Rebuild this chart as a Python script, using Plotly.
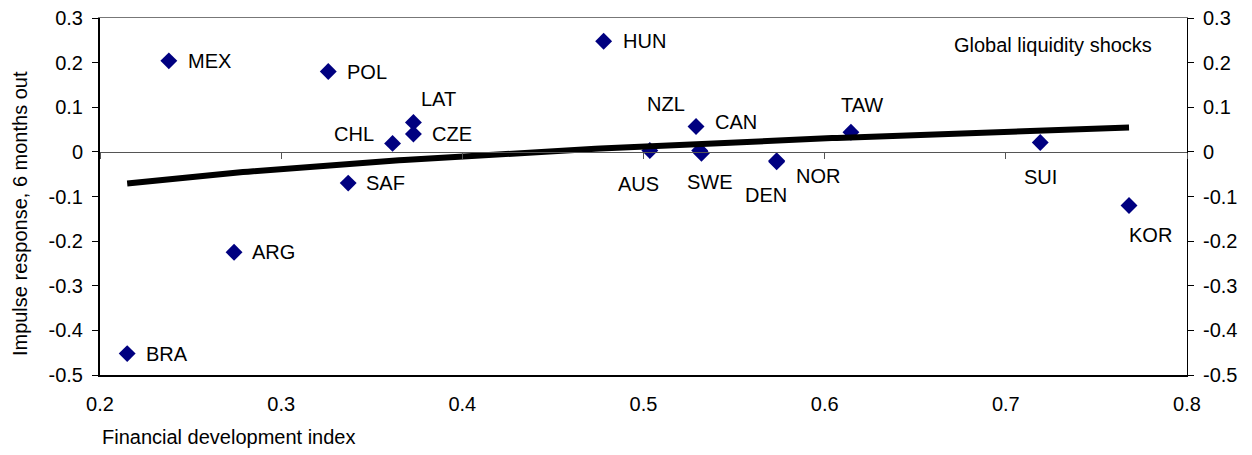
import numpy as np
import plotly.graph_objects as go

# ---- data ----
COUNTRIES = ["MEX", "POL", "LAT", "CZE", "CHL", "SAF", "HUN", "CAN", "NZL", "AUS",
             "SWE", "DEN", "NOR", "TAW", "SUI", "KOR", "ARG", "BRA"]
FIN_DEV = [0.238, 0.326, 0.373, 0.373, 0.3615, 0.337, 0.478, 0.529, 0.531, 0.5035,
           0.532, 0.5735, 0.5735, 0.6145, 0.719, 0.768, 0.274, 0.215]
IMPULSE = [0.204, 0.180, 0.066, 0.040, 0.019, -0.070, 0.248, 0.057, 0.003, 0.003,
           -0.003, -0.020, -0.022, 0.044, 0.021, -0.120, -0.225, -0.452]

X_TICKS = [0.2, 0.3, 0.4, 0.5, 0.6, 0.7, 0.8]
X_TICK_LABELS = ["0.2", "0.3", "0.4", "0.5", "0.6", "0.7", "0.8"]
Y_TICKS = [0.3, 0.2, 0.1, 0.0, -0.1, -0.2, -0.3, -0.4, -0.5]
Y_TICK_LABELS = ["0.3", "0.2", "0.1", "0", "-0.1", "-0.2", "-0.3", "-0.4", "-0.5"]

X_TITLE = "Financial development index"
Y_TITLE = "Impulse response, 6 months out"
PANEL_TEXT = "Global liquidity shocks"

# ---- label placement (pixels relative to marker): xanchor, dx, dy ----
LABEL_POS = {
    "MEX": ("left", 17, 0), "POL": ("left", 17, 0), "LAT": ("left", 6, 23),
    "CZE": ("left", 17, 0), "CHL": ("right", -17, 9), "SAF": ("left", 16, 0),
    "HUN": ("left", 17, 0), "CAN": ("left", 17, 4), "NZL": ("center", -34, 47),
    "AUS": ("center", -11, -33), "SWE": ("center", 9, -29), "DEN": ("center", -11, -34),
    "NOR": ("left", 17, -14), "TAW": ("center", 11, 27), "SUI": ("center", 0, -34),
    "KOR": ("center", 21, -30), "ARG": ("left", 16, 0), "BRA": ("left", 17, 0),
}

FONT = "Liberation Sans, Arial, sans-serif"
FS = 20
X_RANGE = [0.2, 0.8]
Y_RANGE = [-0.5, 0.3]

# log trend line fitted to the points
xa = np.array(FIN_DEV)
ya = np.array(IMPULSE)
b, a = np.polyfit(np.log(xa), ya, 1)
xs = np.linspace(xa.min(), xa.max(), 200)
ys = a + b * np.log(xs)

fig = go.Figure()
# invisible carriers so the auxiliary axes (zero line, top border, right axis) are drawn
for xr, yr in (("x2", "y"), ("x3", "y"), ("x", "y2")):
    fig.add_trace(go.Scatter(
        x=FIN_DEV, y=IMPULSE, mode="markers", xaxis=xr, yaxis=yr,
        marker=dict(size=1, opacity=0), showlegend=False, hoverinfo="skip"))
fig.add_trace(go.Scatter(
    x=FIN_DEV, y=IMPULSE, mode="markers",
    marker=dict(symbol="diamond", size=13, color="#000080", line=dict(width=0)),
    showlegend=False, hoverinfo="text", text=COUNTRIES))
fig.add_trace(go.Scatter(
    x=xs, y=ys, mode="lines", line=dict(color="black", width=6),
    showlegend=False, hoverinfo="skip"))

annotations = []
for c, xv, yv in zip(COUNTRIES, FIN_DEV, IMPULSE):
    anc, dx, dy = LABEL_POS[c]
    annotations.append(dict(
        x=xv, y=yv, xref="x", yref="y", text=c, showarrow=False,
        xanchor=anc, yanchor="middle", xshift=dx, yshift=dy,
        font=dict(family=FONT, size=FS, color="black")))

annotations.append(dict(
    x=0.8767, y=0.924, xref="paper", yref="paper", text=PANEL_TEXT,
    showarrow=False, xanchor="center", yanchor="middle",
    font=dict(family=FONT, size=FS, color="black")))
annotations.append(dict(
    x=0.0, y=-0.174, xref="paper", yref="paper", text=X_TITLE,
    showarrow=False, xanchor="left", yanchor="middle",
    font=dict(family=FONT, size=FS, color="black")))
annotations.append(dict(
    x=-0.0741, y=0.452, xref="paper", yref="paper", text=Y_TITLE,
    showarrow=False, xanchor="center", yanchor="middle", textangle=-90,
    borderpad=0, font=dict(family=FONT, size=FS, color="black")))

zero_pos = (0 - Y_RANGE[0]) / (Y_RANGE[1] - Y_RANGE[0])

fig.update_layout(
    width=1244, height=447,
    margin=dict(l=92, r=65, t=10, b=80, autoexpand=False),
    paper_bgcolor="white", plot_bgcolor="white",
    font=dict(family=FONT, size=FS, color="black"),
    showlegend=False,
    xaxis=dict(range=X_RANGE, tickvals=X_TICKS, ticktext=X_TICK_LABELS,
               showgrid=False, zeroline=False, showline=True, linecolor="black",
               linewidth=1.5, ticks="", ticklabelstandoff=10, automargin=False,
               ticklabeloverflow="allow",
               tickfont=dict(family=FONT, size=FS, color="black")),
    xaxis2=dict(range=X_RANGE, overlaying="x", anchor="free", position=zero_pos,
                tickvals=X_TICKS, showticklabels=False, showgrid=False,
                zeroline=False, showline=True, linecolor="#555555", linewidth=1,
                ticks="outside", ticklen=6, tickcolor="#555555", side="bottom",
                automargin=False),
    xaxis3=dict(range=X_RANGE, overlaying="x", anchor="y", side="top",
                showticklabels=False, showgrid=False, zeroline=False,
                showline=True, linecolor="#777777", linewidth=1, ticks="",
                automargin=False),
    yaxis=dict(range=Y_RANGE, tickvals=Y_TICKS, ticktext=Y_TICK_LABELS,
               showgrid=False, zeroline=False, showline=True, linecolor="black",
               linewidth=2, ticks="outside", ticklen=6, tickcolor="black",
               ticklabelstandoff=5, automargin=False, ticklabeloverflow="allow",
               tickfont=dict(family=FONT, size=FS, color="black")),
    yaxis2=dict(range=Y_RANGE, tickvals=Y_TICKS, ticktext=Y_TICK_LABELS,
                overlaying="y", side="right", anchor="x",
                showgrid=False, zeroline=False, showline=True, linecolor="black",
                linewidth=1, ticks="outside", ticklen=6, tickcolor="black",
                ticklabelstandoff=5, automargin=False, ticklabeloverflow="allow",
                tickfont=dict(family=FONT, size=FS, color="black")),
    annotations=annotations,
)

fig.write_html("out.html")
